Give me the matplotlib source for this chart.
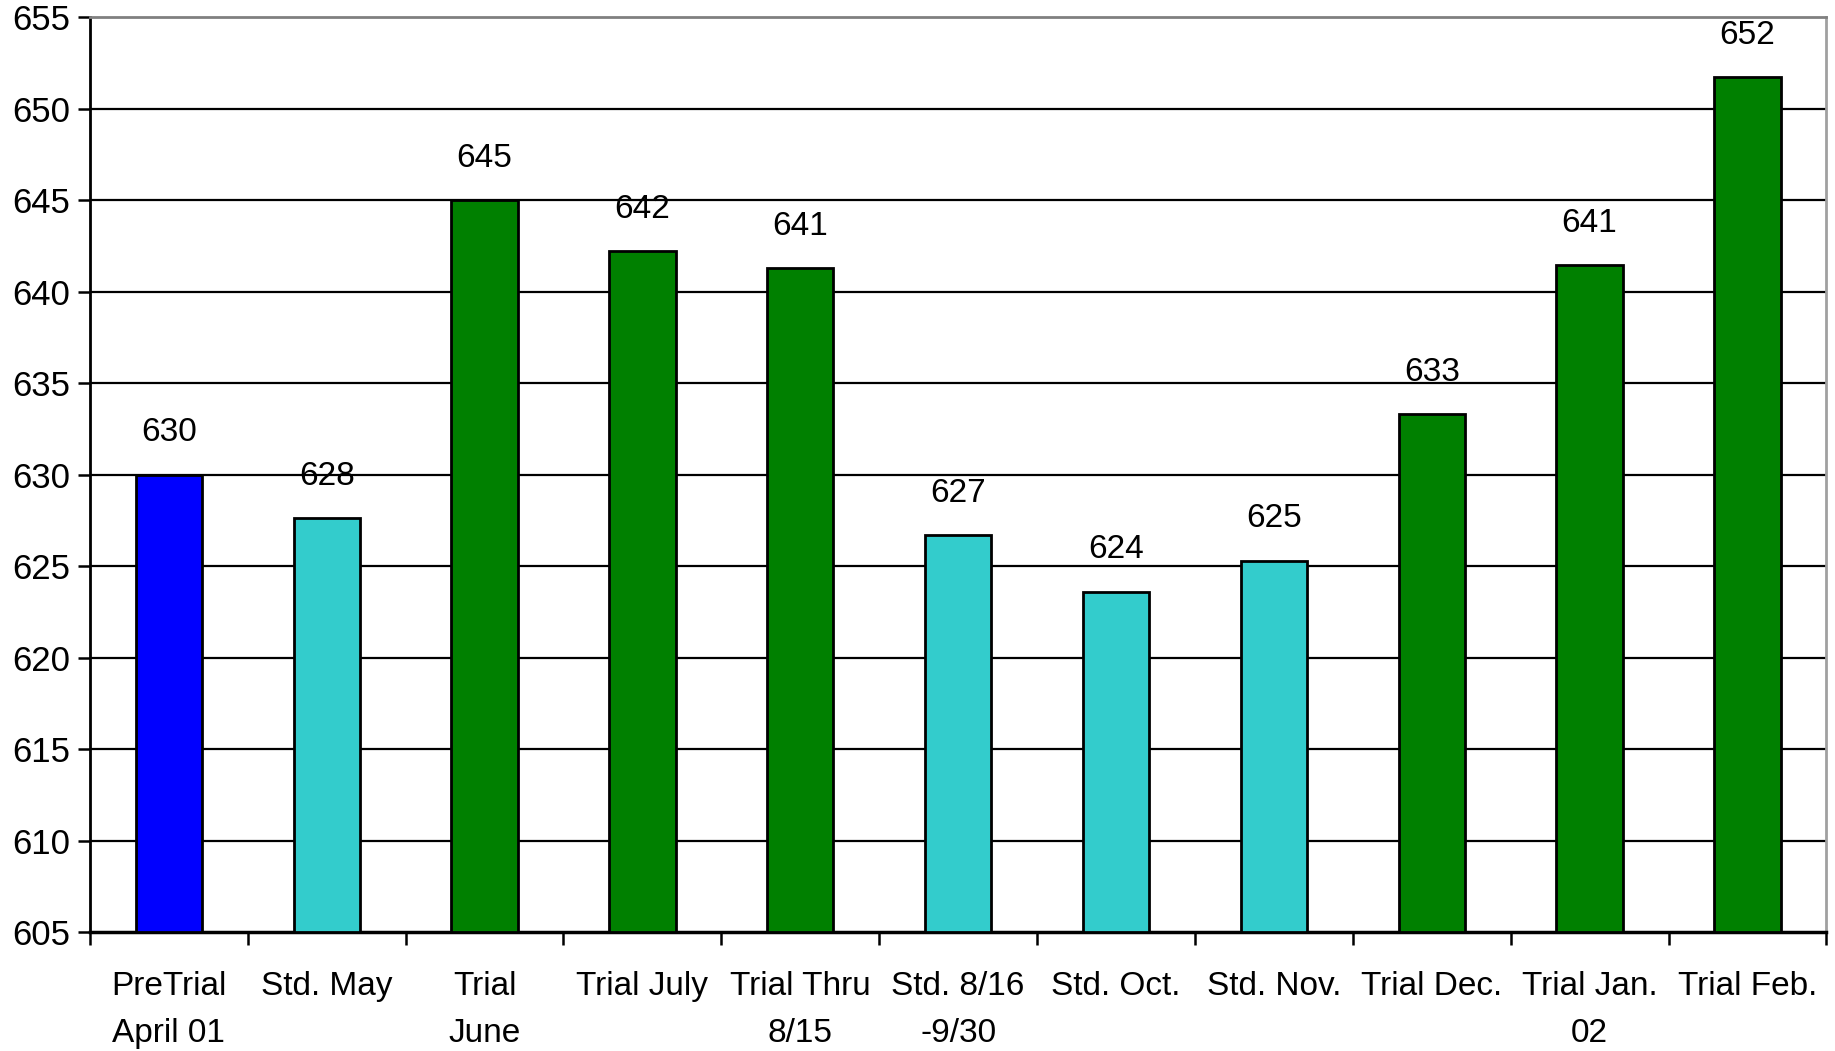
import matplotlib

matplotlib.use("Agg")
import matplotlib.pyplot as plt
import numpy as np

categories = [
    "PreTrial\nApril 01", "Std. May", "Trial\nJune", "Trial July", "Trial Thru\n8/15",
    "Std. 8/16\n-9/30", "Std. Oct.", "Std. Nov.", "Trial Dec.", "Trial Jan.\n02", "Trial Feb.",
]
scores = [630.0, 627.6, 645.0, 642.2, 641.3, 626.7, 623.6, 625.3, 633.3, 641.45, 651.7]
groups = ["pre", "std", "trial", "trial", "trial", "std", "std", "std", "trial", "trial", "trial"]
group_colors = {"pre": "#0000ff", "std": "#33cccc", "trial": "#008000"}
y_ticks = list(range(605, 656, 5))

plt.rcParams["font.family"] = ["Liberation Sans", "DejaVu Sans"]

fig = plt.figure(figsize=(18.35, 10.51), dpi=100)
ax = fig.add_axes([0.049, 0.1132, 0.9463, 0.8706])

x = np.arange(len(categories))
colors = [group_colors[g] for g in groups]
ax.bar(x, [s - 605 for s in scores], bottom=605, width=0.42, color=colors,
       edgecolor="black", linewidth=2, zorder=3)

for xi, s in zip(x, scores):
    ax.annotate(f"{s:.0f}", (xi, s), xytext=(0, 30), textcoords="offset points",
                ha="center", va="center", fontsize=24)

ax.set_xlim(-0.5, len(categories) - 0.5)
ax.set_ylim(605, 655)
ax.set_yticks(y_ticks)
ax.set_yticklabels([str(t) for t in y_ticks], fontsize=25)
for t in y_ticks[1:-1]:
    ax.axhline(t, color="black", linewidth=1.6, zorder=1)

# boundary ticks on x, labels on minor ticks at the category centres
ax.set_xticks(np.arange(len(categories) + 1) - 0.5)
ax.set_xticklabels([])
ax.set_xticks(x, minor=True)
ax.set_xticklabels(categories, minor=True, fontsize=24, linespacing=1.68)
ax.tick_params(axis="x", which="major", length=9, width=1.8, direction="out")
ax.tick_params(axis="x", which="minor", length=0, pad=28)
ax.tick_params(axis="y", length=9, width=1.8, direction="out", pad=5)

ax.spines["left"].set_linewidth(2)
ax.spines["bottom"].set_linewidth(2.5)
ax.spines["top"].set_color("#808080")
ax.spines["top"].set_linewidth(2)
ax.spines["right"].set_color("#a0a0a0")
ax.spines["right"].set_linewidth(2)

fig.savefig("out.png", dpi=100)
